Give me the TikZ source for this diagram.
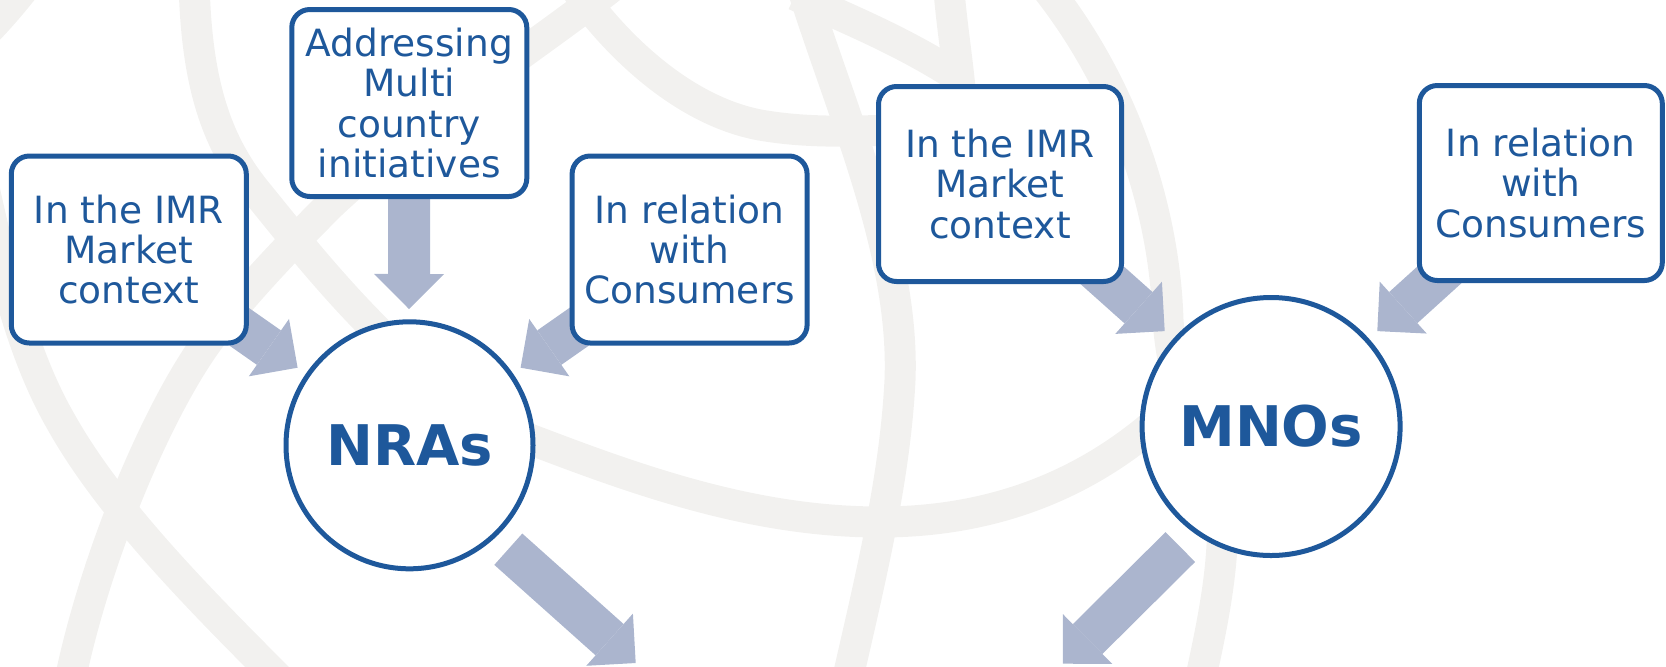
\documentclass[tikz,border=0pt]{standalone}
\usepackage{fontspec}
\setmainfont{DejaVu Sans}
\usetikzlibrary{arrows.meta}
\definecolor{navy}{RGB}{30,88,155}
\definecolor{arrowfill}{RGB}{171,181,206}
\definecolor{bgline}{RGB}{242,241,239}
\pgfdeclarelayer{bands}
\pgfdeclarelayer{arrowlayer}
\pgfsetlayers{bands,arrowlayer,main}
\begin{document}
\begin{tikzpicture}[x=0.5pt,y=-0.5pt,
  bgband/.style={draw=bgline, line width=15.5pt, line cap=butt},
  fatarrow/.style={draw=arrowfill, line width=21pt, line cap=butt,
    -{Triangle[width=35pt,length=17.5pt,line width=0pt]}},
  labelbox/.style={draw=navy, line width=2.5pt, fill=white, rounded corners=9pt,
    text=navy, align=center, inner sep=0pt,
    font=\fontsize{18.75pt}{20.2pt}\selectfont},
  leftbox/.style={labelbox, minimum width=117.5pt, minimum height=93.5pt},
  rightbox/.style={labelbox, minimum width=121.5pt, minimum height=97.5pt},
  hub/.style={circle, draw=navy, line width=2.5pt, fill=white, text=navy,
    inner sep=0pt, font=\fontsize{28pt}{30pt}\selectfont\bfseries},
]
\useasboundingbox (0,0) rectangle (1666,666);

% ---- nodes ----
\node[leftbox]  (box1) at (128.8,249.5) {In the IMR\\Market\\context};
\node[leftbox]  (box2) at (409.3,103)   {Addressing\\Multi\\country\\initiatives};
\node[leftbox]  (box3) at (689.6,249.5) {In relation\\with\\Consumers};
\node[hub, minimum size=123.5pt] (nras) at (409.5,445.3) {NRAs};

\node[rightbox] (box4) at (1000,184)    {In the IMR\\Market\\context};
\node[rightbox] (box5) at (1540.8,183)  {In relation\\with\\Consumers};
\node[hub, minimum size=129pt] (mnos) at (1271.1,426.5) {MNOs};

% ---- arrow end points ----
\coordinate (tA) at (297.6,367.7);
\coordinate (tB) at (409,309);
\coordinate (tC) at (520.6,367.7);
\coordinate (sD) at (508.3,549.2);
\coordinate (tD) at (635.7,663);
\coordinate (tE) at (1164.7,331.1);
\coordinate (tF) at (1377.3,331.1);
\coordinate (sG) at (1180.3,547);
\coordinate (tG) at (1062.8,663.7);

\begin{pgfonlayer}{arrowlayer}
\draw[fatarrow] (box1.center) -- (tA);
\draw[fatarrow] (box2.center) -- (tB);
\draw[fatarrow] (box3.center) -- (tC);
\draw[fatarrow] (sD) -- (tD);
\draw[fatarrow] (box4.center) -- (tE);
\draw[fatarrow] (box5.center) -- (tF);
\draw[fatarrow] (sG) -- (tG);
\end{pgfonlayer}

% ---- background bands ----
\begin{pgfonlayer}{bands}
\begin{scope}
\clip (0,0) rectangle (1666,666);
\draw[bgband] (32,-22) .. controls (15,0) and (0,18) .. (-20,38);
\draw[bgband] (194,-20) .. controls (196,80) and (215,140) .. (255,190)
   .. controls (320,270) and (420,400) .. (540,443)
   .. controls (650,485) and (760,522) .. (880,522)
   .. controls (1000,522) and (1100,480) .. (1180,400);
\draw[bgband] (620,-20) .. controls (560,30) and (420,120) .. (330,205)
   .. controls (270,265) and (220,320) .. (195,360)
   .. controls (150,430) and (95,560) .. (70,680);
\draw[bgband] (-20,170) .. controls (0,260) and (20,350) .. (60,420)
   .. controls (110,510) and (200,600) .. (290,690);
\draw[bgband] (800,-20) .. controls (840,110) and (905,250) .. (900,380)
   .. controls (895,480) and (870,580) .. (845,690);
\draw[bgband] (570,-20) .. controls (610,40) and (680,110) .. (760,125)
   .. controls (800,132) and (840,132) .. (890,130);
\draw[bgband] (795,-5) .. controls (850,20) and (900,40) .. (955,75);
\draw[bgband] (948,-20) .. controls (952,30) and (958,60) .. (962,110);
\draw[bgband] (1040,-20) .. controls (1130,90) and (1165,220) .. (1168,320)
   .. controls (1171,360) and (1180,400) .. (1200,440);
\draw[bgband] (1215,450) .. controls (1232,530) and (1218,600) .. (1198,690);
\end{scope}
\end{pgfonlayer}
\end{tikzpicture}
\end{document}
